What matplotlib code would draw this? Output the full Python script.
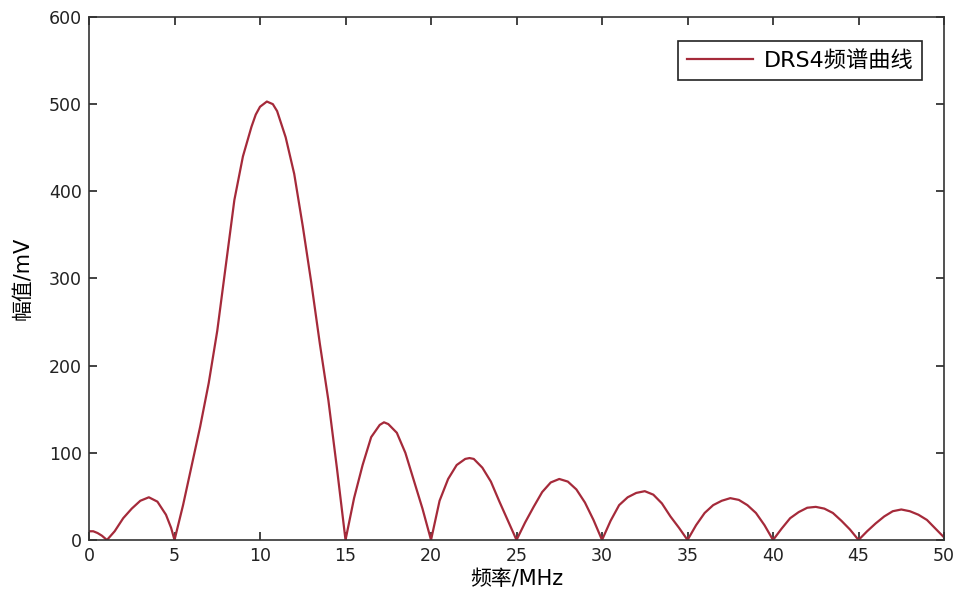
import matplotlib
matplotlib.use("Agg")
import matplotlib.pyplot as plt

plt.rcParams['font.family'] = ['DejaVu Sans', 'Noto Sans CJK SC']

# frequency (MHz) and amplitude (mV)
freq = [0.0, 0.25, 0.5, 0.75, 1.05,
        1.5, 2.0, 2.5, 3.0, 3.5, 4.0, 4.5, 4.8, 5.0,
        5.5, 6.0, 6.5, 7.0, 7.5, 8.0, 8.5, 9.0, 9.5, 9.75, 10.0, 10.4, 10.75,
        11.0, 11.5, 12.0, 12.5, 13.0, 13.5, 14.0, 14.5, 15.0,
        15.5, 16.0, 16.5, 17.0, 17.25, 17.5, 18.0, 18.5, 19.0, 19.5, 20.0,
        20.5, 21.0, 21.5, 22.0, 22.25, 22.5, 23.0, 23.5, 24.0, 24.5, 25.0,
        25.5, 26.0, 26.5, 27.0, 27.5, 28.0, 28.5, 29.0, 29.5, 30.0,
        30.5, 31.0, 31.5, 32.0, 32.5, 33.0, 33.5, 34.0, 34.5, 35.0,
        35.5, 36.0, 36.5, 37.0, 37.5, 38.0, 38.5, 39.0, 39.5, 40.0,
        40.5, 41.0, 41.5, 42.0, 42.5, 43.0, 43.5, 44.0, 44.5, 45.0,
        45.5, 46.0, 46.5, 47.0, 47.5, 48.0, 48.5, 49.0, 49.5, 50.0]
amp = [10, 10, 8, 5, 0,
       10, 25, 36, 45, 49, 44, 29, 14, 0,
       40, 85, 130, 180, 240, 315, 390, 440, 474, 488, 497, 503, 500,
       492, 462, 420, 360, 295, 225, 160, 82, 0,
       48, 86, 118, 132, 135, 133, 123, 100, 68, 36, 0,
       45, 70, 86, 93, 94, 93, 83, 67, 44, 22, 0,
       20, 38, 55, 66, 70, 67, 58, 43, 23, 0,
       22, 40, 49, 54, 56, 52, 42, 27, 14, 0,
       17, 31, 40, 45, 48, 46, 40, 31, 17, 0,
       13, 25, 32, 37, 38, 36, 31, 22, 12, 0,
       10, 19, 27, 33, 35, 33, 29, 23, 13, 3]

x_ticks = [0, 5, 10, 15, 20, 25, 30, 35, 40, 45, 50]
y_ticks = [0, 100, 200, 300, 400, 500, 600]

fig = plt.figure(figsize=(9.56, 5.98), dpi=100)
ax = fig.add_axes([0.0931, 0.097, 0.8944, 0.8746])

ax.plot(freq, amp, color='#A52A3A', linewidth=1.6, label='DRS4频谱曲线')

ax.set_xlim(0, 50)
ax.set_ylim(0, 600)
ax.set_xticks(x_ticks)
ax.set_yticks(y_ticks)
ax.tick_params(direction='in', top=True, right=True, length=6, width=1.2,
               labelsize=12.5, colors='#222222', pad=5)
for side in ax.spines.values():
    side.set_linewidth(1.2)
    side.set_color('#333333')

ax.set_xlabel('频率/MHz', fontsize=15, labelpad=3)
ax.set_ylabel('幅值/mV', fontsize=15, labelpad=12)

leg = ax.legend(loc='upper right', bbox_to_anchor=(0.9743, 0.954), borderaxespad=0,
                fontsize=16, fancybox=False, framealpha=1, edgecolor='#222222',
                handlelength=3.0, handletextpad=0.45, borderpad=0.4)
leg.get_frame().set_linewidth(1.2)

plt.savefig('out.png', dpi=100)
